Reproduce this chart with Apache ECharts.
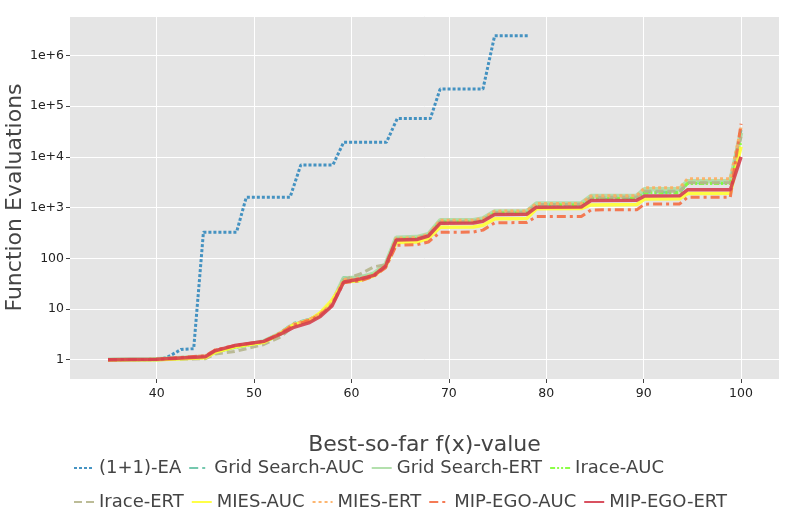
<!DOCTYPE html>
<html><head><meta charset="utf-8">
<script src="https://cdn.jsdelivr.net/npm/echarts@6/dist/echarts.min.js"></script>
<style>html,body{margin:0;padding:0;background:#fff}#c{width:789px;height:527px}</style>
</head><body><div id="c"></div>
<script>
// (1+1)-EA
const eaX = [35, 40, 41, 42, 42.5, 43.8, 44.8, 48.2, 49.2, 53.7, 54.8, 58.1, 59.2, 63.6, 64.7, 68.1, 69.1, 73.5, 74.7, 78.1];
const eaY = [1, 1, 1.1, 1.4, 1.6, 1.65, 327, 327, 1600, 1600, 6950, 6950, 19500, 19500, 57000, 57000, 217000, 217000, 2440000, 2440000];

// shared targets for the tuned algorithms
const targetX = [35, 40, 45, 46, 48, 51, 52.7, 54, 55.7, 56.8, 58, 59.2, 60.9, 62.3, 63.5, 64.6, 66.7, 67.9, 69.1, 72.5, 73.5, 74.7, 78, 79, 83.6, 84.6, 89.3, 90.1, 93.7, 94.5, 98.9, 100];
const gridSearchAUC = [1, 1.02, 1.15, 1.45, 1.8, 2.3, 3.4, 5.2, 6.3, 8, 13, 42, 42, 50, 72, 245, 250, 290, 540, 545, 590, 800, 810, 1150, 1160, 1550, 1570, 2000, 2010, 3100, 3100, 34000];
const gridSearchERT = [1, 1.02, 1.15, 1.45, 1.8, 2.3, 3.3, 4.8, 6.0, 7.8, 13, 40, 42, 50, 75, 255, 262, 300, 560, 565, 610, 840, 850, 1200, 1210, 1700, 1720, 2300, 2320, 3300, 3320, 30000];
const iraceAUC = [1, 1.02, 1.1, 1.4, 1.75, 2.2, 3.2, 4.8, 5.8, 7.5, 13, 35, 36, 48, 70, 240, 245, 285, 520, 525, 570, 780, 790, 1120, 1130, 1500, 1520, 1950, 1960, 3000, 3000, 20000];
const iraceERT = [1, 1.0, 1.05, 1.3, 1.45, 2.0, 2.8, 4.5, 6.2, 8, 13, 38, 49, 68, 75, 240, 250, 290, 530, 535, 580, 800, 810, 1150, 1160, 1600, 1620, 2100, 2110, 3100, 3100, 25000];
const miesAUC = [1, 1.0, 1.1, 1.4, 1.8, 2.2, 3.3, 4.8, 6.0, 8.5, 15, 34, 37, 45, 68, 205, 210, 245, 410, 415, 450, 600, 610, 950, 960, 1130, 1150, 1480, 1490, 1900, 1910, 16000];
const miesERT = [1, 1.02, 1.2, 1.55, 1.9, 2.3, 3.4, 5.0, 6.3, 8, 13, 38, 40, 48, 72, 250, 255, 295, 560, 565, 610, 850, 860, 1200, 1210, 1700, 1720, 2450, 2460, 3700, 3700, 38000];
const mipEgoAUC = [1, 1.02, 1.2, 1.55, 1.9, 2.3, 3.3, 4.8, 6.0, 7.8, 12, 33, 36, 44, 65, 180, 185, 210, 325, 330, 360, 500, 510, 665, 670, 900, 910, 1170, 1180, 1600, 1600, 45000];
const mipEgoERT = [1, 1.02, 1.15, 1.5, 1.9, 2.3, 3.2, 4.3, 5.4, 7.1, 11.5, 34, 39, 46, 70, 230, 235, 275, 490, 495, 540, 730, 740, 1020, 1030, 1380, 1400, 1700, 1710, 2240, 2250, 10000];

const xTicks = [40, 50, 60, 70, 80, 90, 100];
const yTickLabels = ['1', '10', '100', '1e+3', '1e+4', '1e+5', '1e+6'];

const seriesNames = ['(1+1)-EA', 'Grid Search-AUC', 'Grid Search-ERT', 'Irace-AUC', 'Irace-ERT', 'MIES-AUC', 'MIES-ERT', 'MIP-EGO-AUC', 'MIP-EGO-ERT'];

const zip = (xs, ys) => xs.map((x, i) => [x, ys[i]]);
const styles = [
  {color: '#3288bd', width: 3, type: [3, 2]},
  {color: '#66c2a5', width: 3, type: [9, 4, 3, 4]},
  {color: '#abdda4', width: 4.5, type: 'solid'},
  {color: '#80ff33', width: 3, type: [5, 2, 2, 2, 2, 2]},
  {color: '#b5b58c', width: 3, type: [8, 4]},
  {color: '#ffff33', width: 3.5, type: 'solid'},
  {color: '#fdae61', width: 3, type: [3, 3]},
  {color: '#f46d43', width: 3, type: [9, 4, 3, 4]},
  {color: '#d53e4f', width: 3.5, type: 'solid'}
];
const datasets = [zip(eaX, eaY), zip(targetX, gridSearchAUC), zip(targetX, gridSearchERT), zip(targetX, iraceAUC), zip(targetX, iraceERT), zip(targetX, miesAUC), zip(targetX, miesERT), zip(targetX, mipEgoAUC), zip(targetX, mipEgoERT)];

const series = seriesNames.map((n, i) => ({
  name: n, type: 'line', data: datasets[i], symbol: 'none', showSymbol: false,
  lineStyle: {color: styles[i].color, width: styles[i].width, type: styles[i].type, opacity: 0.9},
  itemStyle: {color: styles[i].color},
  z: 2 + i, animation: false
}));

const font = 'DejaVu Sans';
const legendBase = {
  orient: 'horizontal', left: 73, itemWidth: 20, itemHeight: 14, itemGap: 7,
  itemStyle: {opacity: 0, borderWidth: 0},
  textStyle: {fontFamily: font, fontSize: 18, color: '#444'}, padding: 0
};

const chart = echarts.init(document.getElementById('c'), null, {renderer: 'canvas'});
chart.setOption({
  animation: false,
  backgroundColor: '#fff',
  grid: {left: 70, right: 10, top: 16, bottom: 148, show: true, backgroundColor: '#e5e5e5', borderWidth: 0, containLabel: false, outerBoundsMode: 'none'},
  legend: [
    Object.assign({}, legendBase, {top: 459, data: seriesNames.slice(0, 4)}),
    Object.assign({}, legendBase, {top: 493, data: seriesNames.slice(4)})
  ],
  xAxis: {
    type: 'value', min: 31.1, max: 103.9,
    name: 'Best-so-far f(x)-value', nameLocation: 'middle', nameGap: 55, nameMoveOverlap: false,
    nameTextStyle: {fontFamily: font, fontSize: 22, color: '#444'},
    axisLine: {show: false},
    axisTick: {show: true, length: 4, lineStyle: {color: '#444'}, customValues: xTicks},
    axisLabel: {fontFamily: font, fontSize: 12.5, color: '#222', margin: 8, customValues: xTicks},
    splitLine: {show: true, lineStyle: {color: '#fff', width: 1}}
  },
  yAxis: {
    type: 'log', logBase: 10, min: 0.417, max: 6.0e6,
    name: 'Function Evaluations', nameLocation: 'middle', nameGap: 44, nameMoveOverlap: false,
    nameTextStyle: {fontFamily: font, fontSize: 22, color: '#444'},
    axisLine: {show: false},
    axisTick: {show: true, length: 4, lineStyle: {color: '#444'}},
    axisLabel: {fontFamily: font, fontSize: 12.5, color: '#222', margin: 6, showMinLabel: false, showMaxLabel: false,
      formatter: v => { const e = Math.round(Math.log10(v)); return (Math.abs(Math.log10(v) - e) < 1e-6 && yTickLabels[e] !== undefined) ? yTickLabels[e] : ''; }},
    splitLine: {show: true, lineStyle: {color: '#fff', width: 1}},
    minorTick: {show: false}, minorSplitLine: {show: false}
  },
  series: series
});
</script>
</body></html>
